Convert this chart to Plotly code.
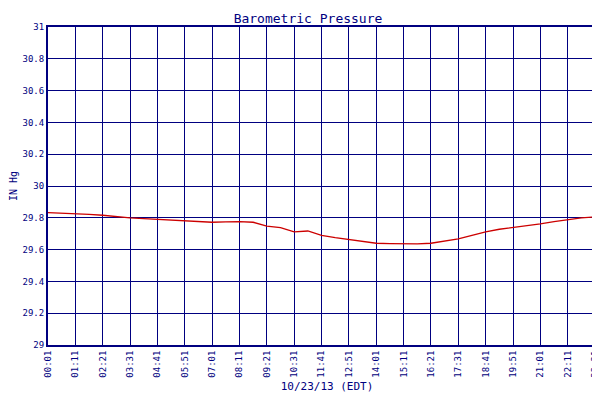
import plotly.graph_objects as go

tick_labels = ["00:01","01:11","02:21","03:31","04:41","05:51","07:01","08:11","09:21","10:31","11:41",
               "12:51","14:01","15:11","16:21","17:31","18:41","19:51","21:01","22:11","23:21","23:49"]
times = ["00:01","00:36","01:11","01:46","02:21","02:56","03:31","04:06","04:41","05:16","05:51","06:26",
         "07:01","07:36","08:11","08:46","09:21","09:56","10:31","11:06","11:41","12:16","12:51","13:26",
         "14:01","14:36","15:11","15:46","16:21","16:56","17:31","18:06","18:41","19:16","19:51","20:26",
         "21:01","21:36","22:11","22:46","23:21","23:49"]
pressure = [29.833,29.830,29.826,29.822,29.816,29.806,29.800,29.795,29.790,29.787,29.784,29.778,
            29.772,29.774,29.776,29.772,29.748,29.738,29.712,29.717,29.690,29.675,29.662,29.651,
            29.640,29.638,29.637,29.636,29.640,29.652,29.668,29.690,29.712,29.728,29.738,29.750,
            29.762,29.776,29.790,29.800,29.806,29.810]

def tomin(s):
    h, m = s.split(":")
    return int(h)*60+int(m)

xs = [tomin(t) for t in times]
tv = [tomin(t) for t in tick_labels]
navy = "#000080"
font = "DejaVu Sans Mono"

fig = go.Figure(go.Scatter(x=xs, y=pressure, mode="lines", name="Relative Pressure",
                           line=dict(color="#cc0000", width=1.3)))
fig.update_layout(
    width=600, height=400, paper_bgcolor="white", plot_bgcolor="white",
    margin=dict(l=40, r=2, t=19, b=63, autoexpand=False),
    title=dict(text="Barometric Pressure", x=0.5, xanchor="center", y=0.985, yanchor="top",
               font=dict(family=font, size=13, color=navy)),
    font=dict(family=font, size=9, color=navy),
    showlegend=True,
    legend=dict(orientation="h", x=0.5, xanchor="center", y=-0.16, yanchor="top",
                font=dict(size=9, color=navy), bgcolor="rgba(0,0,0,0)"),
)
fig.update_xaxes(range=[tv[0], tv[-1]], tickvals=tv, ticktext=tick_labels, tickangle=-90,
                 automargin=False,
                 showgrid=True, gridcolor=navy, gridwidth=1, zeroline=False,
                 showline=True, linecolor=navy, linewidth=2, mirror=True,
                 title=dict(text="10/23/13 (EDT)", font=dict(size=11, color=navy), standoff=6),
                 tickfont=dict(size=9, color=navy))
fig.update_yaxes(range=[29, 31], dtick=0.2, tickformat="~r", automargin=False,
                 showgrid=True, gridcolor=navy, gridwidth=1,
                 zeroline=False, showline=True, linecolor=navy, linewidth=2, mirror=True,
                 title=dict(text="IN Hg", font=dict(size=10, color=navy), standoff=4),
                 tickfont=dict(size=9, color=navy))
fig.write_html("out.html")
